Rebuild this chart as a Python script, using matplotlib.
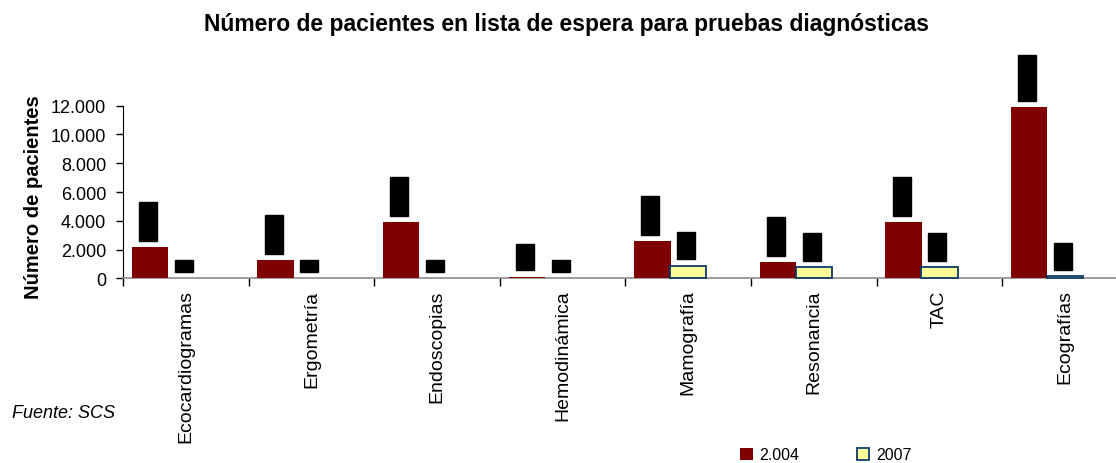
import matplotlib
matplotlib.use("Agg")
import matplotlib.pyplot as plt
import numpy as np
from matplotlib.ticker import FixedLocator, FuncFormatter

plt.rcParams['font.family'] = ['Liberation Sans', 'DejaVu Sans']

categories = ["Ecocardiogramas", "Ergometría", "Endoscopias", "Hemodinámica",
              "Mamografía", "Resonancia", "TAC", "Ecografías"]
v2004 = [2180, 1270, 3910, 110, 2590, 1130, 3910, 11910]
v2007 = [0, 0, 0, 0, 880, 770, 770, 140]
yticks = [0, 2000, 4000, 6000, 8000, 10000, 12000]
series_names = ["2.004", "2007"]

def fmt(v):
    return f"{int(v):,}".replace(",", ".")

W, H = 1116, 464
fig = plt.figure(figsize=(W / 100, H / 100), dpi=100)
ax = fig.add_axes([123 / W, (H - 279.3) / H, 1004.8 / W, (279.3 - 106.7) / H])

x = np.arange(len(categories))
bw = 0.29
b1 = ax.bar(x - 0.285, v2004, width=bw, color="#800000", edgecolor="none",
            label=series_names[0], clip_on=False, zorder=3)
b2 = ax.bar(x + 0.0, v2007, width=bw, color="#FFFF99", edgecolor="#0B3A6B",
            linewidth=[1.3 if v > 0 else 0 for v in v2007],
            label=series_names[1], clip_on=False, zorder=3)

# data labels (black on black, as in the reference)
for bars, vals in ((b1, v2004), (b2, v2007)):
    for rect, v in zip(bars, vals):
        cx = rect.get_x() + rect.get_width() / 2
        ax.annotate(fmt(v), xy=(cx, v), xytext=(-2, 8.5), textcoords="offset pixels",
                    rotation=90, ha="center", va="bottom", fontsize=10,
                    color="black", annotation_clip=False, zorder=5,
                    bbox=dict(boxstyle="square,pad=0.15", facecolor="black",
                              edgecolor="black"))

ax.set_xlim(-0.5, len(categories) - 0.5)
ax.set_ylim(0, 12000)
ax.set_yticks(yticks)
ax.yaxis.set_major_formatter(FuncFormatter(lambda v, p: fmt(v)))
ax.tick_params(axis="y", direction="out", length=5, width=1, colors="black",
               labelsize=13, pad=7)
ax.set_xticks(x)
ax.set_xticklabels(categories, rotation=90, ha="center", va="top", fontsize=14)
ax.tick_params(axis="x", which="major", length=0, pad=8)
ax.xaxis.set_minor_locator(FixedLocator(np.arange(-0.5, len(categories), 1.0)))
ax.tick_params(axis="x", which="minor", direction="out", length=6, width=1,
               colors="black")

for s in ("top", "right"):
    ax.spines[s].set_visible(False)
ax.spines["left"].set_color("black")
ax.spines["bottom"].set_color("#8c8c8c")
ax.spines["bottom"].set_linewidth(1.2)
ax.patch.set_alpha(0)

fig.text(566 / W, 1 - 24 / H, "Número de pacientes en lista de espera para pruebas diagnósticas",
         ha="center", va="center", fontsize=16.5, fontweight="bold")
fig.text(34 / W, 1 - 197 / H, "Número de pacientes", rotation=90,
         ha="center", va="center", fontsize=14.5, fontweight="bold")
fig.text(12 / W, 1 - 414 / H, "Fuente: SCS", ha="left", va="center",
         fontsize=13, style="italic")

leg = fig.legend(handles=[b1, b2], labels=series_names, loc="center left",
                 bbox_to_anchor=(740 / W, 1 - 456 / H), ncol=2, frameon=False,
                 fontsize=11.5, handlelength=0.8, handleheight=0.8,
                 handletextpad=0.4, columnspacing=3.6, borderpad=0,
                 borderaxespad=0)
leg.legend_handles[1].set_linewidth(1.3)

fig.savefig("out.png", dpi=100)
